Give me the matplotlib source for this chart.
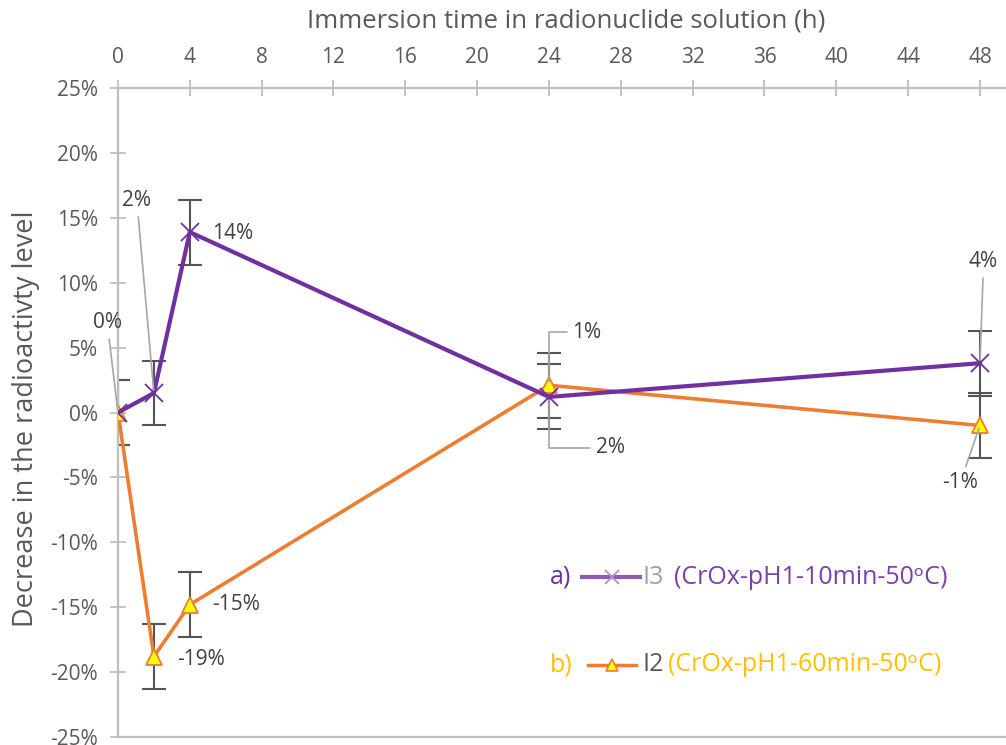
import matplotlib.pyplot as plt
from matplotlib.lines import Line2D
from matplotlib.ticker import FuncFormatter

plt.rcParams['font.family'] = ['Open Sans', 'DejaVu Sans']

# immersion time (h)
hours = [0, 2, 4, 24, 48]

# decrease in radioactivity level (%)
i3_vals = [0.0, 1.5, 13.9, 1.2, 3.8]
i2_vals = [0.0, -18.8, -14.8, 2.1, -1.0]
i3_err = [2.5, 2.5, 2.5, 2.5, 2.5]
i2_err = [2.5, 2.5, 2.5, 2.5, 2.5]

# data labels: (text, index of point, text position x, y)
i3_labels = [("0%", 0, -0.6, 6.9), ("2%", 1, 1.05, 16.3), ("14%", 2, 6.4, 13.8),
             ("2%", 3, 27.4, -2.7), ("4%", 4, 48.2, 11.6)]
i2_labels = [("-19%", 1, 4.6, -19.0), ("-15%", 2, 6.6, -14.8),
             ("1%", 3, 26.1, 6.2), ("-1%", 4, 46.9, -5.4)]

purple = '#7030A0'
orange = '#ED7D31'
gold = '#FFC000'
axis_gray = '#BFBFBF'
text_gray = '#595959'
label_gray = '#404040'

fig = plt.figure(figsize=(10.06, 7.45), dpi=100)
ax = fig.add_axes([0.1173, 0.0107, 0.8827, 0.8712])

# error bars
ax.errorbar(hours, i2_vals, yerr=i2_err, fmt='none', ecolor='#555555',
            elinewidth=1.5, capsize=8.5, capthick=1.5, zorder=2)
ax.errorbar(hours, i3_vals, yerr=i3_err, fmt='none', ecolor='#555555',
            elinewidth=1.5, capsize=8.5, capthick=1.5, zorder=2)

ax.plot(hours, i2_vals, color=orange, lw=2.6, marker='^', markersize=11,
        markerfacecolor='#FFFF00', markeredgecolor=orange, markeredgewidth=1.3, zorder=3)
ax.plot(hours, i3_vals, color=purple, lw=3, marker='x', markersize=13,
        markeredgewidth=1.3, zorder=4)

ax.set_xlim(0, 49.45)
ax.set_ylim(-25, 25)
ax.set_xticks(range(0, 49, 4))
ax.set_yticks(range(-25, 26, 5))
ax.yaxis.set_major_formatter(FuncFormatter(lambda v, p: '%d%%' % v))

ax.xaxis.tick_top()
ax.xaxis.set_label_position('top')
ax.tick_params(axis='both', direction='inout', length=11, width=1.3,
               color=axis_gray, labelcolor=text_gray, labelsize=15)
ax.tick_params(axis='x', pad=9)
ax.tick_params(axis='y', pad=9)
ax.spines['right'].set_visible(False)
for s in ['left', 'top', 'bottom']:
    ax.spines[s].set_color(axis_gray)
    ax.spines[s].set_linewidth(1.6)

ax.set_xlabel('Immersion time in radionuclide solution (h)', fontsize=18.5,
              color=text_gray)
ax.xaxis.set_label_coords(0.505, 1.093)
ax.set_ylabel('Decrease in the radioactivty level', fontsize=19.5,
              color=text_gray)
ax.yaxis.set_label_coords(-0.088, 0.49)

lead = dict(arrowstyle='-', color='#A6A6A6', lw=1.2, shrinkA=2, shrinkB=2)
elbow = dict(lead, connectionstyle='angle,angleA=0,angleB=90,rad=0')

for txt, i, tx, ty in i3_labels:
    if i == 3:
        props = elbow
    elif i == 2:
        props = None
    else:
        props = lead
    ax.annotate(txt, xy=(hours[i], i3_vals[i]), xytext=(tx, ty), ha='center',
                va='center', fontsize=15, color=label_gray, arrowprops=props, zorder=5)

for txt, i, tx, ty in i2_labels:
    if i == 3:
        props = elbow
    elif i == 4:
        props = lead
    else:
        props = None
    ax.annotate(txt, xy=(hours[i], i2_vals[i]), xytext=(tx, ty), ha='center',
                va='center', fontsize=15, color=label_gray, arrowprops=props, zorder=5)

# custom legend
tr = ax.transAxes
ax.text(0.4865, 0.2465, 'a)', transform=tr, color=purple, fontsize=18, va='center')
ax.add_line(Line2D([0.5225, 0.5878], [0.2465, 0.2465], transform=tr, color=purple,
                   lw=3, alpha=0.8))
ax.add_line(Line2D([0.5563], [0.2465], transform=tr, color='#B18FCF', marker='x',
                   markersize=10, markeredgewidth=1.3, lw=0))
ax.text(0.5912, 0.2465, 'I3', transform=tr, color='#A0A0A0', fontsize=18, va='center')
ax.text(0.6261, 0.2465, '(CrOx-pH1-10min-50ᵒC)', transform=tr, color='#7E3FA8',
        fontsize=18, va='center')

ax.text(0.4865, 0.111, 'b)', transform=tr, color=gold, fontsize=18, va='center')
ax.add_line(Line2D([0.5293, 0.5833], [0.111, 0.111], transform=tr, color=orange, lw=2.5))
ax.add_line(Line2D([0.5563], [0.111], transform=tr, color=orange, marker='^',
                   markersize=9, markerfacecolor='#FFFF00', markeredgewidth=1.2, lw=0))
ax.text(0.5912, 0.111, 'I2', transform=tr, color='#595959', fontsize=18, va='center')
ax.text(0.6194, 0.111, '(CrOx-pH1-60min-50ᵒC)', transform=tr, color=gold,
        fontsize=18, va='center')

fig.savefig('out.png', dpi=100)
